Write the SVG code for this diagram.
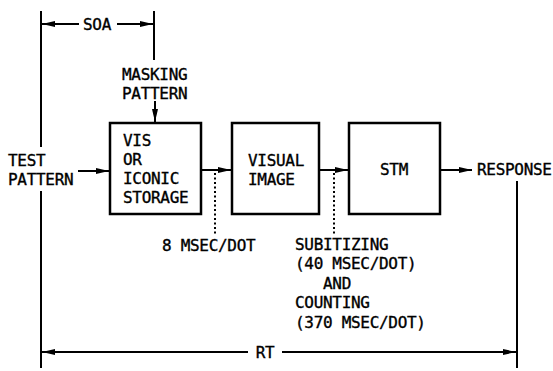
<svg xmlns="http://www.w3.org/2000/svg" width="553" height="371" viewBox="0 0 553 371">
<style>
text{font-family:"DejaVu Sans Mono","Liberation Mono",monospace;font-size:16px;letter-spacing:-0.3px;fill:#000;stroke:#000;stroke-width:0.35}
.box{fill:#fff;stroke:#000;stroke-width:2.5}
.ln{stroke:#000;stroke-width:2;fill:none}
.dot{stroke:#000;stroke-width:2;stroke-dasharray:2 2.5;fill:none}
</style>
<defs>
<marker id="ah" viewBox="0 0 13 8" refX="13" refY="4" markerWidth="13" markerHeight="8" markerUnits="userSpaceOnUse" orient="auto">
<path d="M0,1 L13,4 L0,7 Z" fill="#000"/>
</marker>
</defs>
<rect width="553" height="371" fill="#fff"/>
<g id="connectors">
<line class="ln" x1="41" y1="11" x2="41" y2="147"/>
<line class="ln" x1="41" y1="191" x2="41" y2="368"/>
<line class="ln" x1="154" y1="11" x2="154" y2="60"/>
<line class="ln" x1="517" y1="181" x2="517" y2="368"/>
<line class="ln" x1="79" y1="24" x2="42" y2="24" marker-end="url(#ah)"/>
<line class="ln" x1="117" y1="24" x2="153" y2="24" marker-end="url(#ah)"/>
<line class="ln" x1="155" y1="101" x2="155" y2="122" marker-end="url(#ah)"/>
<line class="ln" x1="78" y1="171" x2="109" y2="171" marker-end="url(#ah)"/>
<line class="ln" x1="201" y1="170" x2="231" y2="170" marker-end="url(#ah)"/>
<line class="ln" x1="319" y1="170" x2="348" y2="170" marker-end="url(#ah)"/>
<line class="ln" x1="440" y1="170" x2="472" y2="170" marker-end="url(#ah)"/>
<line class="ln" x1="248" y1="352" x2="42" y2="352" marker-end="url(#ah)"/>
<line class="ln" x1="282" y1="352" x2="516" y2="352" marker-end="url(#ah)"/>
<line class="dot" x1="215" y1="173" x2="215" y2="234"/>
<line class="dot" x1="334" y1="173" x2="334" y2="234"/>
</g>
<g id="soa"><text x="97" y="30" text-anchor="middle">SOA</text></g>
<g id="masking"><text x="122" y="80">MASKING</text><text x="122" y="99">PATTERN</text></g>
<g id="test"><text x="8" y="166">TEST</text><text x="8" y="185">PATTERN</text></g>
<g id="vis">
<rect class="box" x="110" y="123" width="91" height="91"/>
<text x="123" y="146">VIS</text><text x="123" y="165">OR</text><text x="123" y="184">ICONIC</text><text x="123" y="203">STORAGE</text>
</g>
<g id="visual">
<rect class="box" x="232" y="123" width="87" height="91"/>
<text x="248" y="166">VISUAL</text><text x="248" y="185">IMAGE</text>
</g>
<g id="stm">
<rect class="box" x="349" y="123" width="91" height="91"/>
<text x="394" y="175" text-anchor="middle">STM</text>
</g>
<g id="response"><text x="477" y="175">RESPONSE</text></g>
<g id="lbl8"><text x="162" y="251">8 MSEC/DOT</text></g>
<g id="lblsub">
<text x="295" y="250">SUBITIZING</text>
<text x="295" y="269">(40 MSEC/DOT)</text>
<text x="323" y="289">AND</text>
<text x="295" y="308">COUNTING</text>
<text x="295" y="328">(370 MSEC/DOT)</text>
</g>
<g id="rt"><text x="265" y="358" text-anchor="middle">RT</text></g>
</svg>
